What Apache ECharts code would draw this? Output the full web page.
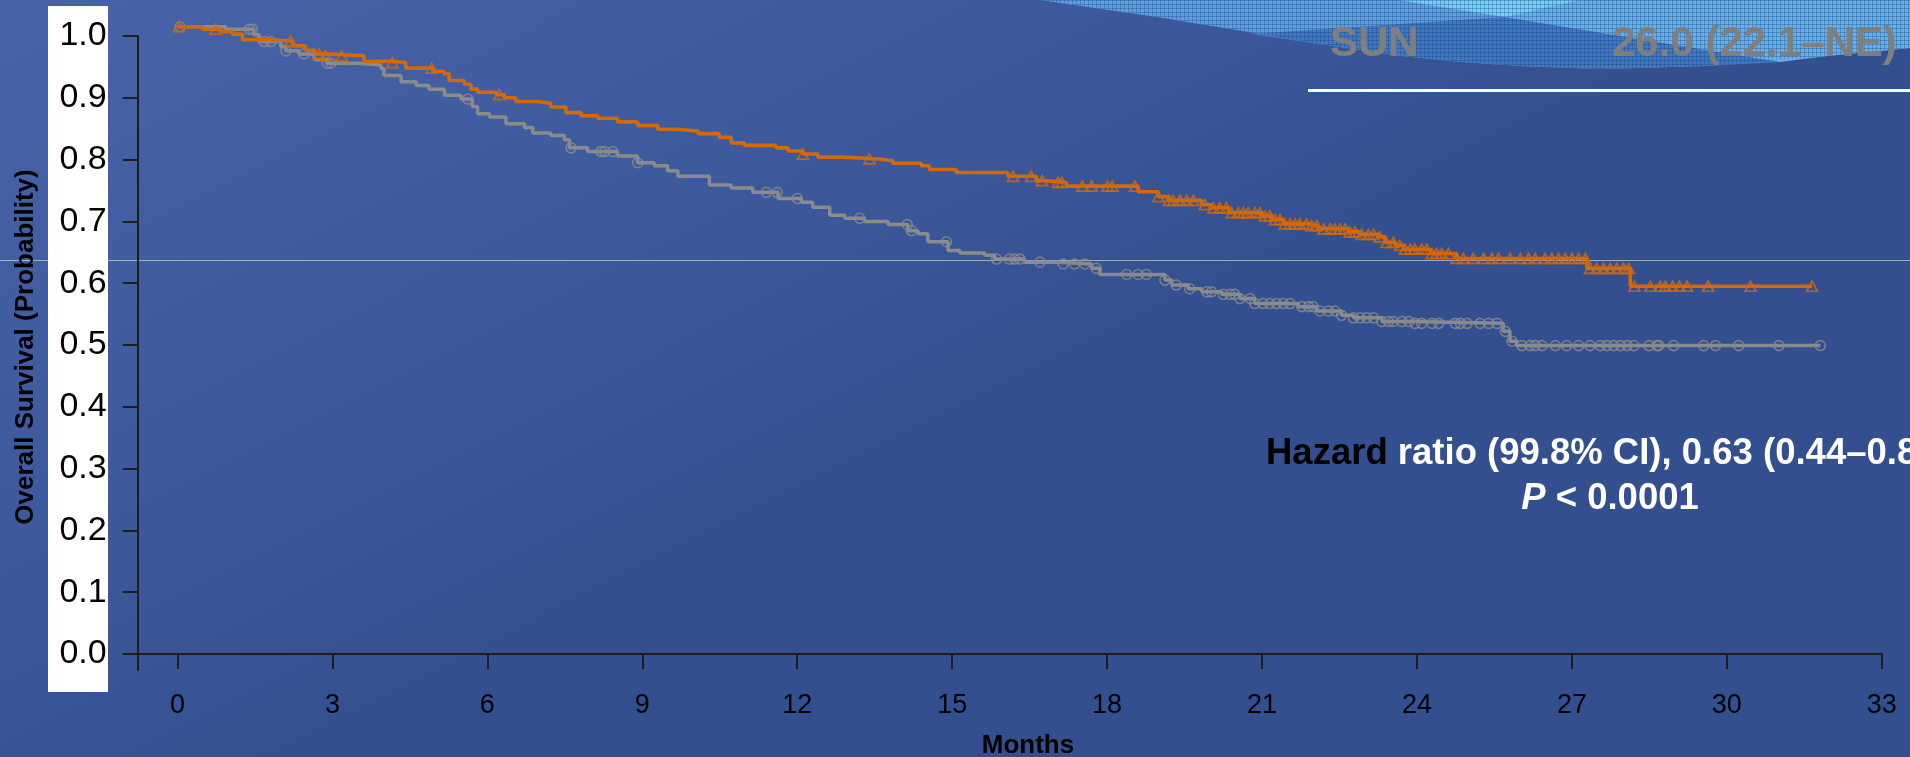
<!DOCTYPE html>
<html>
<head>
<meta charset="utf-8">
<script src="https://cdn.jsdelivr.net/npm/echarts@6/dist/echarts.min.js"></script>
<style>
html,body{margin:0;padding:0;width:1910px;height:757px;overflow:hidden;background:#3f5a9e}
#chart{width:1910px;height:757px}
</style>
</head>
<body>
<div id="chart"></div>
<script>
// ---------- data ----------
const xTicks = [0, 3, 6, 9, 12, 15, 18, 21, 24, 27, 30, 33];
const yTicks = [0, 0.1, 0.2, 0.3, 0.4, 0.5, 0.6, 0.7, 0.8, 0.9, 1.0];

const xTitle = 'Months';
const yTitle = 'Overall Survival (Probability)';

// experimental arm (orange) – Kaplan–Meier steps
const orangeTimes = [0,0.48,0.84,1.06,1.26,1.81,2.23,2.48,2.66,2.86,3.61,4.16,4.42,4.94,5.16,5.26,5.55,5.68,5.81,6.17,6.33,6.55,6.97,7.23,7.52,7.81,8.14,8.52,8.91,9.30,9.69,10.08,10.49,10.72,10.98,11.59,11.82,12.11,12.40,12.85,13.59,13.85,14.40,14.56,15.08,16.08,16.63,16.79,17.21,18.60,18.99,19.18,19.83,20.02,20.35,20.99,21.19,21.41,21.90,22.09,22.67,22.90,23.25,23.38,23.58,23.74,24.25,24.77,27.29,28.13,31.65];
const orangeSurv  = [1.015,1.011,1.007,1.003,0.994,0.992,0.984,0.977,0.971,0.968,0.959,0.957,0.948,0.943,0.939,0.928,0.922,0.914,0.909,0.905,0.900,0.894,0.891,0.885,0.876,0.871,0.867,0.861,0.855,0.849,0.846,0.842,0.836,0.827,0.823,0.819,0.814,0.809,0.804,0.801,0.798,0.794,0.790,0.784,0.779,0.773,0.766,0.763,0.757,0.748,0.740,0.734,0.727,0.722,0.714,0.709,0.703,0.696,0.693,0.688,0.683,0.679,0.675,0.666,0.661,0.655,0.648,0.640,0.624,0.595,0.595];
const orangeCensor = [0.03,0.74,2.19,2.74,2.87,3.18,4.16,4.92,6.23,12.11,13.40,16.18,16.53,16.74,17.05,17.12,17.52,17.70,18.01,18.10,18.54,18.99,19.20,19.28,19.41,19.54,19.67,19.89,20.06,20.18,20.31,20.41,20.54,20.64,20.73,20.86,20.96,21.06,21.15,21.25,21.35,21.44,21.54,21.64,21.73,21.86,21.96,22.06,22.19,22.32,22.41,22.51,22.61,22.70,22.80,22.93,23.06,23.16,23.28,23.41,23.54,23.67,23.77,23.87,23.96,24.09,24.19,24.29,24.38,24.48,24.61,24.77,24.90,25.09,25.29,25.45,25.58,25.80,26.00,26.16,26.29,26.48,26.61,26.74,26.87,27.00,27.13,27.26,27.35,27.48,27.61,27.74,27.87,28.00,28.10,28.21,28.52,28.71,28.81,28.95,29.08,29.23,29.64,30.46,31.65];

// comparator arm SUN (gray)
const grayTimes = [0,0.93,1.48,1.58,2.00,2.10,2.35,2.65,2.90,3.49,3.94,4.00,4.33,4.62,4.87,5.17,5.49,5.71,5.81,6.04,6.36,6.72,6.88,7.23,7.49,7.59,7.94,8.52,8.91,9.23,9.49,9.69,10.30,10.72,11.14,11.63,12.08,12.30,12.63,12.92,13.30,13.76,14.14,14.34,14.53,14.92,15.15,15.63,15.82,16.40,17.05,17.70,17.86,19.12,19.25,19.57,19.83,20.22,20.57,20.86,21.70,22.06,22.54,22.77,23.32,23.90,25.67,25.80,25.93,31.81];
const graySurv  = [1.015,1.011,1.002,0.991,0.983,0.976,0.971,0.962,0.956,0.953,0.947,0.936,0.926,0.920,0.914,0.904,0.898,0.886,0.874,0.869,0.858,0.852,0.843,0.839,0.832,0.819,0.813,0.806,0.795,0.790,0.782,0.773,0.759,0.754,0.747,0.737,0.731,0.723,0.710,0.705,0.700,0.695,0.685,0.680,0.667,0.653,0.649,0.645,0.639,0.634,0.631,0.624,0.614,0.605,0.597,0.591,0.586,0.582,0.575,0.567,0.562,0.555,0.548,0.544,0.538,0.535,0.522,0.506,0.499,0.499];
const grayCensor = [0.05,1.39,1.45,1.68,1.81,2.10,2.45,2.90,2.97,5.62,7.62,8.20,8.27,8.43,8.91,11.40,11.61,12.00,13.21,14.13,14.21,14.89,15.86,16.11,16.21,16.31,16.70,17.15,17.37,17.57,17.79,18.38,18.60,18.76,19.12,19.34,19.60,19.93,20.02,20.25,20.38,20.47,20.57,20.77,20.86,21.02,21.15,21.28,21.41,21.54,21.77,21.90,21.99,22.12,22.29,22.41,22.54,22.77,22.90,23.03,23.16,23.32,23.45,23.54,23.71,23.84,23.96,24.09,24.29,24.42,24.74,24.84,24.97,25.22,25.39,25.55,25.71,25.84,26.03,26.19,26.29,26.42,26.68,26.90,27.13,27.35,27.55,27.68,27.81,27.94,28.07,28.20,28.49,28.65,28.68,28.97,29.55,29.78,30.23,31.01,31.81];

const legendName = 'SUN';
const legendValue = '26.0 (22.1–NE)';
const hrText = 'ratio (99.8% CI), 0.63 (0.44–0.89)';
const pText = '< 0.0001';

// ---------- helpers ----------
function steps(times, surv) { return times.map((t, i) => [t, surv[i]]); }
function survAt(times, surv, t) {
  let v = surv[0];
  for (let i = 0; i < times.length; i++) { if (times[i] <= t) v = surv[i]; else break; }
  return v;
}
function censorPts(c, times, surv) { return c.map(t => [t, survAt(times, surv, t)]); }

// small grid texture for the decorative header wave
function makeTexture() {
  const c = document.createElement('canvas');
  c.width = 4; c.height = 4;
  const g = c.getContext('2d');
  g.fillStyle = 'rgba(0,0,0,0)';
  g.clearRect(0, 0, 4, 4);
  g.fillStyle = 'rgba(20,50,110,0.28)';
  g.fillRect(0, 0, 4, 1);
  g.fillRect(0, 0, 1, 4);
  return c;
}
const tex = makeTexture();

const ORANGE = '#d2690a';
const GRAY = '#8b8b8b';
const AXIS = '#1e1e1e';
const FONT = '"Liberation Sans", Arial, Helvetica, sans-serif';

const wavePts = [[1040,0],[1910,0],[1910,48],[1827,56],[1705,66],[1600,69],[1520,66],[1462,62],[1401,56],[1340,47],[1279,37],[1157,17]];

const chart = echarts.init(document.getElementById('chart'), null, { renderer: 'canvas' });

const option = {
  animation: false,
  backgroundColor: new echarts.graphic.LinearGradient(0, 0, 0.2, 1, [
    { offset: 0, color: '#4863a9' },
    { offset: 0.55, color: '#3e5a9e' },
    { offset: 1, color: '#344f8f' }
  ]),
  grid: { left: 137.7, right: 28.2, top: 36, bottom: 87, containLabel: false },
  xAxis: {
    type: 'value', min: -0.77, max: 33, z: 5,
    axisLine: { show: true, lineStyle: { color: AXIS, width: 2 } },
    axisTick: { show: true, length: 15, lineStyle: { color: AXIS, width: 2 }, customValues: xTicks },
    axisLabel: { customValues: xTicks, color: '#000', fontSize: 27, fontFamily: FONT, margin: 22,
                 formatter: v => String(Math.round(v)) },
    splitLine: { show: false }
  },
  yAxis: {
    type: 'value', min: -0.026, max: 1.0, z: 5,
    axisLine: { show: true, onZero: false, lineStyle: { color: AXIS, width: 2 } },
    axisTick: { show: true, length: 15, lineStyle: { color: AXIS, width: 2 }, customValues: yTicks },
    axisLabel: { customValues: yTicks, color: '#000', fontSize: 34, fontFamily: FONT, margin: 31,
                 padding: [5, 0, 0, 0], formatter: v => v.toFixed(1) },
    splitLine: { show: false }
  },
  series: [
    { type: 'line', name: 'SUN', z: 6, step: 'end', clip: false, showSymbol: false, symbol: 'none',
      data: steps(grayTimes, graySurv), lineStyle: { color: GRAY, width: 3.5 } },
    { type: 'scatter', z: 7, clip: false, symbol: 'circle', symbolSize: 10,
      data: censorPts(grayCensor, grayTimes, graySurv),
      itemStyle: { color: 'rgba(0,0,0,0)', borderColor: GRAY, borderWidth: 1.6 } },
    { type: 'line', name: 'Experimental', z: 8, step: 'end', clip: false, showSymbol: false, symbol: 'none',
      data: steps(orangeTimes, orangeSurv), lineStyle: { color: ORANGE, width: 3.6 } },
    { type: 'scatter', z: 9, clip: false, symbol: 'triangle', symbolSize: [11, 10],
      data: censorPts(orangeCensor, orangeTimes, orangeSurv),
      itemStyle: { color: 'rgba(0,0,0,0)', borderColor: ORANGE, borderWidth: 1.8 } }
  ],
  graphic: { elements: [
    // faint horizontal slide line
    { type: 'rect', z: 1, shape: { x: 0, y: 260, width: 1910, height: 1 }, style: { fill: 'rgba(190,202,232,0.75)' } },
    // white box behind y tick labels
    { type: 'rect', z: 2, shape: { x: 48, y: 6, width: 60, height: 686 }, style: { fill: '#ffffff' } },
    // decorative wave (top right)
    { type: 'polygon', z: 1, shape: { points: wavePts }, style: { fill: '#5e9fdf' } },
    { type: 'polygon', z: 1, shape: { points: [[1250,34],[1505,17],[1780,62],[1705,66],[1600,69],[1520,66],[1462,62],[1401,56],[1340,47]] },
      style: { fill: '#4079c2' } },
    { type: 'polygon', z: 1, shape: { points: [[1580,0],[1910,0],[1910,48],[1827,56],[1780,62],[1505,17]] },
      style: { fill: '#67afe8' } },
    { type: 'polygon', z: 1, shape: { points: [[1398,0],[1580,0],[1505,17]] },
      style: { fill: '#76cdf8' } },
    { type: 'polygon', z: 1, shape: { points: wavePts }, style: { fill: { image: tex, repeat: 'repeat' } } },
    // legend remnants
    { type: 'text', z: 10, x: 1330, y: 44, style: { text: legendName, fill: '#7f7f7f', font: 'bold 42px ' + FONT, align: 'left', verticalAlign: 'middle' } },
    { type: 'text', z: 10, x: 1612, y: 44, style: { text: legendValue, fill: '#7f7f7f', font: 'bold 42px ' + FONT, align: 'left', verticalAlign: 'middle' } },
    { type: 'rect', z: 10, shape: { x: 1308, y: 89, width: 602, height: 3 }, style: { fill: '#ffffff' } },
    // hazard ratio annotation
    { type: 'text', z: 10, x: 1266, y: 454, style: {
        text: '{k|Hazard} ' + hrText, fill: '#ffffff', font: 'bold 36.5px ' + FONT, align: 'left', verticalAlign: 'middle',
        rich: { k: { fill: '#000000', font: 'bold 36.5px ' + FONT } } } },
    { type: 'text', z: 10, x: 1610, y: 499, style: {
        text: '{i|P} ' + pText, fill: '#ffffff', font: 'bold 36.5px ' + FONT, align: 'center', verticalAlign: 'middle',
        rich: { i: { fill: '#ffffff', font: 'italic bold 36.5px ' + FONT } } } },
    // axis titles
    { type: 'text', z: 10, x: 1028, y: 746, style: { text: xTitle, fill: '#000', font: 'bold 26px ' + FONT, align: 'center', verticalAlign: 'middle' } },
    { type: 'text', z: 10, x: 26, y: 347, rotation: Math.PI / 2, style: { text: yTitle, fill: '#000', font: 'bold 26px ' + FONT, align: 'center', verticalAlign: 'middle' } }
  ] }
};
chart.setOption(option);
</script>
</body>
</html>
